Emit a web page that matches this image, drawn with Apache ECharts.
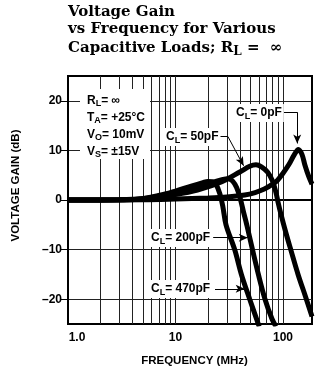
<!DOCTYPE html>
<html>
<head>
<meta charset="utf-8">
<script src="https://cdn.jsdelivr.net/npm/echarts@6/dist/echarts.min.js"></script>
<style>
  html, body { margin: 0; padding: 0; background: #fff; }
  #chart { width: 315px; height: 373px; }
</style>
</head>
<body>
<div id="chart"></div>
<script>
// curves: [MHz, dB]
var cl0 = [[1, 0], [5, 0.05], [10, 0.2], [20, 0.4], [30, 0.6], [44, 1.0], [55, 1.5], [67, 2.2], [80, 3.2], [89, 4.0], [100, 5.4], [113, 7.1], [127, 9.1], [139, 10.2], [150, 9.2], [160, 7.0], [173, 4.8], [186, 3.2]]
var cl50 = [[1, 0], [3, 0.05], [5, 0.2], [10, 1.1], [16, 2.0], [27, 3.7], [40, 5.7], [49, 6.8], [56, 7.1], [63, 6.7], [72, 5.6], [80, 3.8], [86, 1.5], [90, -0.5], [96, -3], [106, -6.5], [118, -10], [138, -15], [162, -19.5], [186, -23.5]]
var cl200 = [[1, 0], [3, 0.05], [5, 0.25], [10, 1.5], [16, 2.6], [22, 3.5], [27, 4.1], [31, 4.3], [34, 3.8], [37, 2.5], [40, 0.3], [43, -2.5], [46, -5], [52, -10], [59, -15], [68, -20], [79, -24], [86, -25.5]]
var cl470 = [[1, 0], [3, 0.05], [5, 0.3], [8, 1.2], [10, 1.8], [14, 2.8], [18, 3.5], [20, 3.75], [22, 3.7], [24, 3.0], [25.8, 1.3], [27.5, -1.2], [29.5, -5], [35.5, -10], [41, -15], [49, -20], [60, -25.5]]

var xTickLabels = [1, 10, 100]
var yTickLabels = [-20, -10, 0, 10, 20]
var minorFreqs = [2, 3, 4, 5, 6, 7, 8, 9, 10, 20, 30, 40, 50, 60, 70, 80, 90, 100]

var chart = echarts.init(document.getElementById('chart'))

var lab = { fontFamily: 'Liberation Sans', fontWeight: 'bold', fontSize: 12, color: '#000' }
var sub = { fontFamily: 'Liberation Sans', fontWeight: 'bold', fontSize: 9, color: '#000', padding: [7, 0, 0, 0] }

function curve(name, data) {
  return {
    name: name,
    type: 'line',
    data: data,
    smooth: 0.35,
    showSymbol: false,
    z: 5,
    lineStyle: { color: '#000', width: 5 }
  }
}

function arrowLine(a, b, head) {
  return [
    { coord: a, symbol: 'none' },
    { coord: b, symbol: head ? 'arrow' : 'none', symbolSize: [6, 9] }
  ]
}

function cLabel(text, x, y) {
  return {
    type: 'text',
    x: x,
    y: y,
    z: 100,
    style: {
      text: '{b|C}{s|L}{b|= ' + text + '}',
      rich: { b: lab, s: sub },
      verticalAlign: 'middle',
      backgroundColor: '#fff',
      padding: [1, 2]
    }
  }
}

var option = {
  animation: false,
  grid: {
    left: 68,
    right: -1,
    top: 76,
    bottom: 49,
    show: true,
    borderColor: '#000',
    borderWidth: 2
  },
  xAxis: {
    type: 'log',
    logBase: 10,
    min: 1,
    max: 186,
    name: 'FREQUENCY (MHz)',
    nameLocation: 'middle',
    nameGap: 31,
    nameTextStyle: { fontFamily: 'Liberation Sans', fontWeight: 'bold', fontSize: 11.5, color: '#000', padding: [0, 0, 0, 9] },
    axisLine: { lineStyle: { color: '#000', width: 2 } },
    axisTick: { show: false },
    splitLine: { show: false },
    axisLabel: {
      margin: 8,
      fontFamily: 'Liberation Sans',
      fontWeight: 'bold',
      fontSize: 12,
      color: '#000',
      formatter: function (v) {
        for (var i = 0; i < xTickLabels.length; i++) {
          if (Math.abs(v - xTickLabels[i]) < 1e-6) {
            return i === 0 ? '{first|1.0}' : String(xTickLabels[i])
          }
        }
        return ''
      },
      rich: { first: { fontFamily: 'Liberation Sans', fontWeight: 'bold', fontSize: 12, color: '#000', padding: [0, 0, 0, 18] } }
    }
  },
  yAxis: {
    type: 'value',
    min: -25,
    max: 25,
    interval: 5,
    name: 'VOLTAGE GAIN (dB)',
    nameLocation: 'middle',
    nameGap: 46,
    nameRotate: 90,
    nameTextStyle: { fontFamily: 'Liberation Sans', fontWeight: 'bold', fontSize: 11.5, color: '#000', padding: [0, 0, 0, 29] },
    axisLine: { lineStyle: { color: '#000', width: 2 } },
    axisTick: { show: true, length: 8, customValues: yTickLabels, lineStyle: { color: '#000', width: 1 } },
    splitLine: { lineStyle: { color: '#222', width: 1 } },
    axisLabel: {
      margin: 6,
      fontFamily: 'Liberation Sans',
      fontWeight: 'bold',
      fontSize: 12,
      color: '#000',
      formatter: function (v) {
        if (yTickLabels.indexOf(v) < 0) return ''
        return v < 0 ? '\u2013' + Math.abs(v) : String(v)
      }
    }
  },
  series: [
    {
      type: 'line',
      data: [],
      z: 1,
      markLine: {
        silent: true,
        symbol: ['none', 'none'],
        label: { show: false },
        lineStyle: { color: '#222', width: 1, type: 'solid' },
        data: minorFreqs.map(function (f) { return { xAxis: f } })
      }
    },
    {
      type: 'line',
      data: [],
      z: 6,
      markLine: {
        silent: true,
        label: { show: false },
        lineStyle: { color: '#000', width: 1, type: 'solid' },
        itemStyle: { color: '#000' },
        data: [
          arrowLine([85, 17.7], [135.5, 17.7], false),
          arrowLine([135.5, 17.7], [135.5, 11.4], true),
          arrowLine([25.9, 12.8], [30.7, 12.8], false),
          arrowLine([30.7, 12.8], [43, 6.9], true),
          arrowLine([22.4, -7.6], [47, -7.6], true),
          arrowLine([23.3, -17.9], [44, -17.9], true)
        ]
      }
    },
    curve('0pF', cl0),
    curve('50pF', cl50),
    curve('200pF', cl200),
    curve('470pF', cl470)
  ],
  graphic: [
    {
      type: 'text',
      x: 68,
      y: 3,
      z: 100,
      style: {
        text: '{t|Voltage Gain}\n{t|vs Frequency for Various}\n{t|Capacitive Loads; R}{ts|L}{t| =  \u221e}',
        rich: {
          t: { fontFamily: 'DejaVu Serif', fontWeight: 'bold', fontSize: 15, color: '#000', lineHeight: 17.7 },
          ts: { fontFamily: 'DejaVu Serif', fontWeight: 'bold', fontSize: 12, color: '#000', padding: [7, 0, 0, 0] }
        }
      }
    },
    {
      type: 'rect',
      z: 90,
      shape: { x: 80, y: 89, width: 70, height: 70 },
      style: { fill: '#fff' }
    },
    {
      type: 'text',
      x: 87,
      y: 92,
      z: 100,
      style: {
        text: '{b|R}{s|L}{b|= \u221e}\n{b|T}{s|A}{b|= +25\u00b0C}\n{b|V}{s|O}{b|= 10mV}\n{b|V}{s|S}{b|= \u00b115V}',
        rich: {
          b: Object.assign({ lineHeight: 17 }, lab),
          s: sub
        }
      }
    },
    cLabel('0pF', 234, 113),
    cLabel('50pF', 164, 137),
    cLabel('200pF', 149, 238),
    cLabel('470pF', 149, 289)
  ]
}

chart.setOption(option)
</script>
</body>
</html>
